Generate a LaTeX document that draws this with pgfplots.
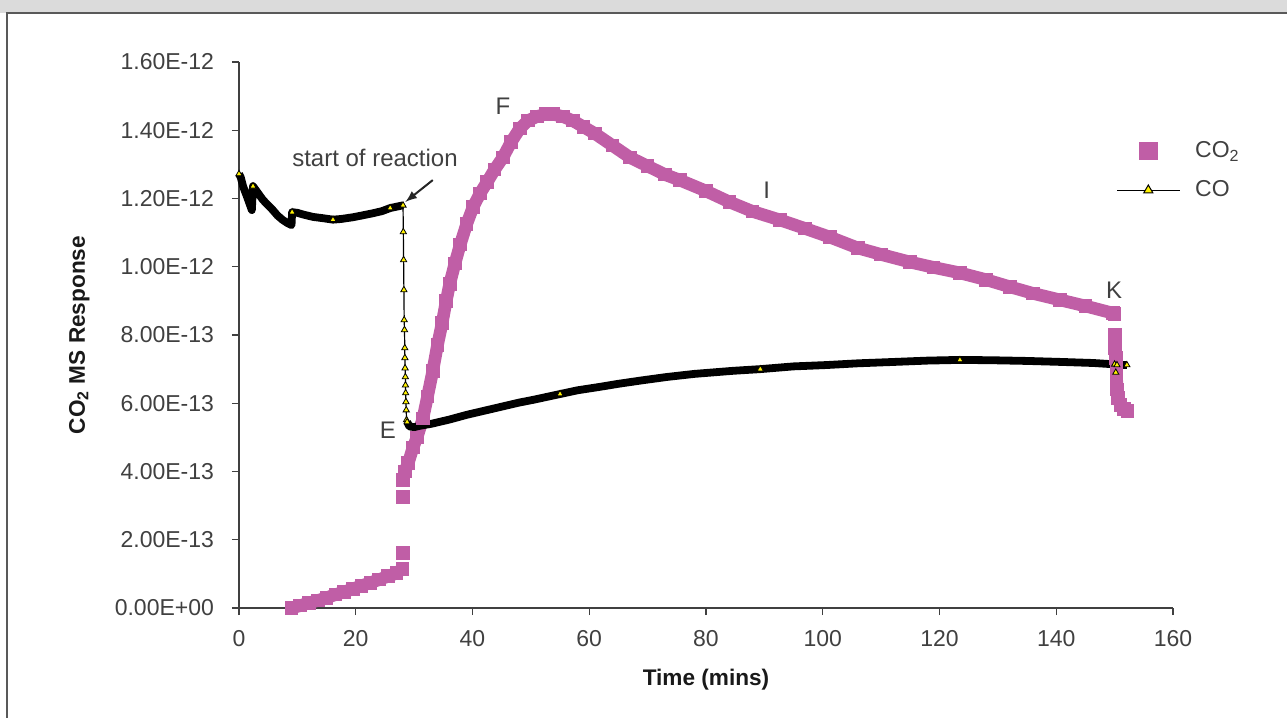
\documentclass[border=0pt]{standalone}
\usepackage{pgfplots}
\pgfplotsset{compat=1.18}
\usepackage{pgfplotstable}
\usepackage{fontspec}
\setmainfont{Liberation Sans}
\definecolor{co2col}{RGB}{192,94,166}
\definecolor{txt}{RGB}{64,64,64}
\pgfplotsset{wide legend/.style={legend image code/.code={%
  \draw[mark repeat=2,mark phase=2,##1] plot coordinates {(0cm,0cm) (0.55cm,0cm) (1.1cm,0cm)};}}}

% values in units of 1e-12
\pgfplotstableread{
x y
9.0 0.000
10.5 0.007
12 0.015
13.5 0.022
15 0.030
16.5 0.039
18 0.047
19.5 0.056
21 0.065
22.5 0.074
24 0.083
25.5 0.093
27 0.102
28.0 0.115
nan nan
28.1 0.161
nan nan
28.1 0.325
nan nan
28.1 0.375
28.4 0.400
29.0 0.425
29.8 0.470
30.5 0.500
31.5 0.555
32.3 0.620
33.2 0.695
34.0 0.770
34.8 0.835
35.5 0.900
36.1 0.950
37.0 1.010
37.9 1.065
39.0 1.125
40.1 1.175
41.3 1.215
42.5 1.248
43.8 1.285
45.2 1.320
46.6 1.365
48.1 1.405
49.5 1.428
51.0 1.440
52.5 1.447
53.8 1.447
55.5 1.440
57.2 1.428
59.0 1.410
61.0 1.390
64.0 1.355
67.0 1.320
70.0 1.295
73.0 1.270
75.5 1.254
80.0 1.222
84.0 1.190
88.0 1.162
92.7 1.137
97.0 1.112
101.2 1.087
106.0 1.055
110.0 1.036
114.9 1.014
119.0 0.998
123.5 0.982
128.0 0.962
132.1 0.941
136.0 0.922
140.6 0.903
145.0 0.885
149.7 0.864
150.0 0.862
nan nan
150.05 0.800
nan nan
150.1 0.762
nan nan
150.2 0.733
nan nan
150.3 0.700
150.35 0.670
150.4 0.640
150.6 0.615
151.0 0.595
151.6 0.583
152.2 0.578
}\cotwo

\pgfplotstableread{
x y
0.0 1.272
0.3 1.262
0.7 1.236
1.0 1.222
1.4 1.204
1.8 1.185
2.2 1.166
2.4 1.236
3.0 1.222
4.1 1.196
5.0 1.180
5.8 1.166
6.6 1.150
7.5 1.137
8.3 1.128
9.0 1.122
9.1 1.160
10.0 1.158
11.0 1.153
12.7 1.146
14.5 1.142
16.1 1.138
17.5 1.140
19.5 1.145
21.0 1.150
23.0 1.157
24.5 1.163
25.9 1.172
27.0 1.176
28.1 1.180
28.15 1.102
28.2 1.020
28.25 0.932
28.3 0.844
28.35 0.815
28.4 0.762
28.42 0.733
28.45 0.703
28.5 0.677
28.52 0.653
28.55 0.630
28.6 0.604
28.65 0.580
28.7 0.551
28.8 0.545
29.2 0.532
30.0 0.530
31.0 0.534
33.0 0.540
36.0 0.552
39.0 0.566
42.0 0.578
45.0 0.590
48.0 0.602
50.4 0.610
55.0 0.627
58.0 0.638
61.8 0.648
65.0 0.657
69.0 0.667
73.3 0.677
78.0 0.686
84.6 0.695
89.3 0.700
95.0 0.708
100.7 0.712
106.0 0.717
112.1 0.721
118.0 0.725
123.5 0.727
129.0 0.726
135.0 0.724
141.0 0.721
146.3 0.718
150.0 0.714
150.2 0.690
150.4 0.712
152.1 0.712
}\co

\begin{document}
\begin{tikzpicture}
\path[use as bounding box] (-119.5pt,-55pt) rectangle (524pt,304pt);
\fill[gray!28] (-119.5pt,297.5pt) rectangle (524pt,304pt);
\draw[black!65, line width=0.7pt] (-116pt,-55pt) -- (-116pt,297.5pt) -- (524pt,297.5pt);
\begin{axis}[
  scale only axis, width=467pt, height=273pt,
  xmin=0, xmax=160, ymin=0, ymax=1.6,
  clip=false,
  axis x line=bottom, axis y line=left,
  axis line style={-, black!75, line width=0.6pt},
  tick align=outside, major tick length=3.5pt,
  tick style={black!75, line width=0.6pt},
  xtick={0,20,...,160},
  ytick={0,0.2,...,1.6},
  yticklabels={0.00E+00,2.00E-13,4.00E-13,6.00E-13,8.00E-13,1.00E-12,1.20E-12,1.40E-12,1.60E-12},
  /pgf/number format/assume math mode=true,
  ticklabel style={font=\fontsize{11.5}{13}\selectfont, text=txt},
  yticklabel style={xshift=-5.5pt},
  xticklabel style={yshift=-4pt},
  xlabel={\textbf{Time (mins)}},
  ylabel={\textbf{CO\textsubscript{2} MS Response}},
  label style={font=\fontsize{11.3}{13}\selectfont, text=black!90},
  xlabel style={at={(axis description cs:0.5,-0.131)}, anchor=center},
  ylabel style={at={(axis description cs:-0.171,0.5)}, anchor=center},
  legend style={at={(rel axis cs:0.939,0.801)}, anchor=west, draw=none, fill=none,
    font=\fontsize{11.5}{13}\selectfont, text=txt, row sep=6pt, inner sep=0pt,
    /tikz/every odd column/.append style={column sep=5.5pt}},
  legend cell align=left,
  unbounded coords=jump,
]
\addlegendimage{only marks, mark=square*, mark size=4.3pt, co2col, mark options={draw=co2col, fill=co2col}, wide legend}
\addlegendentry{CO\textsubscript{2}}
\addlegendimage{black, line width=0.6pt, mark=triangle*, mark size=2.6pt, mark options={fill=yellow, draw=black, line width=0.5pt}, wide legend}
\addlegendentry{CO}

\addplot[co2col, line width=6.3pt, line join=round, mark=square*, mark size=3.15pt,
  mark options={draw=co2col, fill=co2col, line width=0pt}, forget plot] table {\cotwo};

\addplot[black, line width=3.9pt, line join=round, forget plot,
  x filter/.expression={(x>28.12 && x<28.75) ? nan : x}] table {\co};
\addplot[black, line width=0.6pt, mark=triangle*, mark size=1.8pt,
  mark indices={1,8,17,22,28,30,31,32,33,34,35,36,37,38,39,40,41,42,43,44,45,56,64,70,75,76,77,78},
  mark options={fill=yellow, draw=black, line width=0.4pt}, forget plot] table {\co};

\node[font=\fontsize{12}{14}\selectfont, text=txt] at (axis cs:23.3,1.319) {start of reaction};
\draw[-latex, black!85, line width=1pt] (axis cs:33.2,1.254) -- (axis cs:28.5,1.19);
\node[font=\fontsize{12}{14}\selectfont, text=txt] at (axis cs:45.2,1.471) {F};
\node[font=\fontsize{12}{14}\selectfont, text=txt] at (axis cs:90.4,1.225) {I};
\node[font=\fontsize{12}{14}\selectfont, text=txt] at (axis cs:149.9,0.932) {K};
\node[font=\fontsize{12}{14}\selectfont, text=txt] at (axis cs:25.5,0.522) {E};
\end{axis}
\end{tikzpicture}
\end{document}
